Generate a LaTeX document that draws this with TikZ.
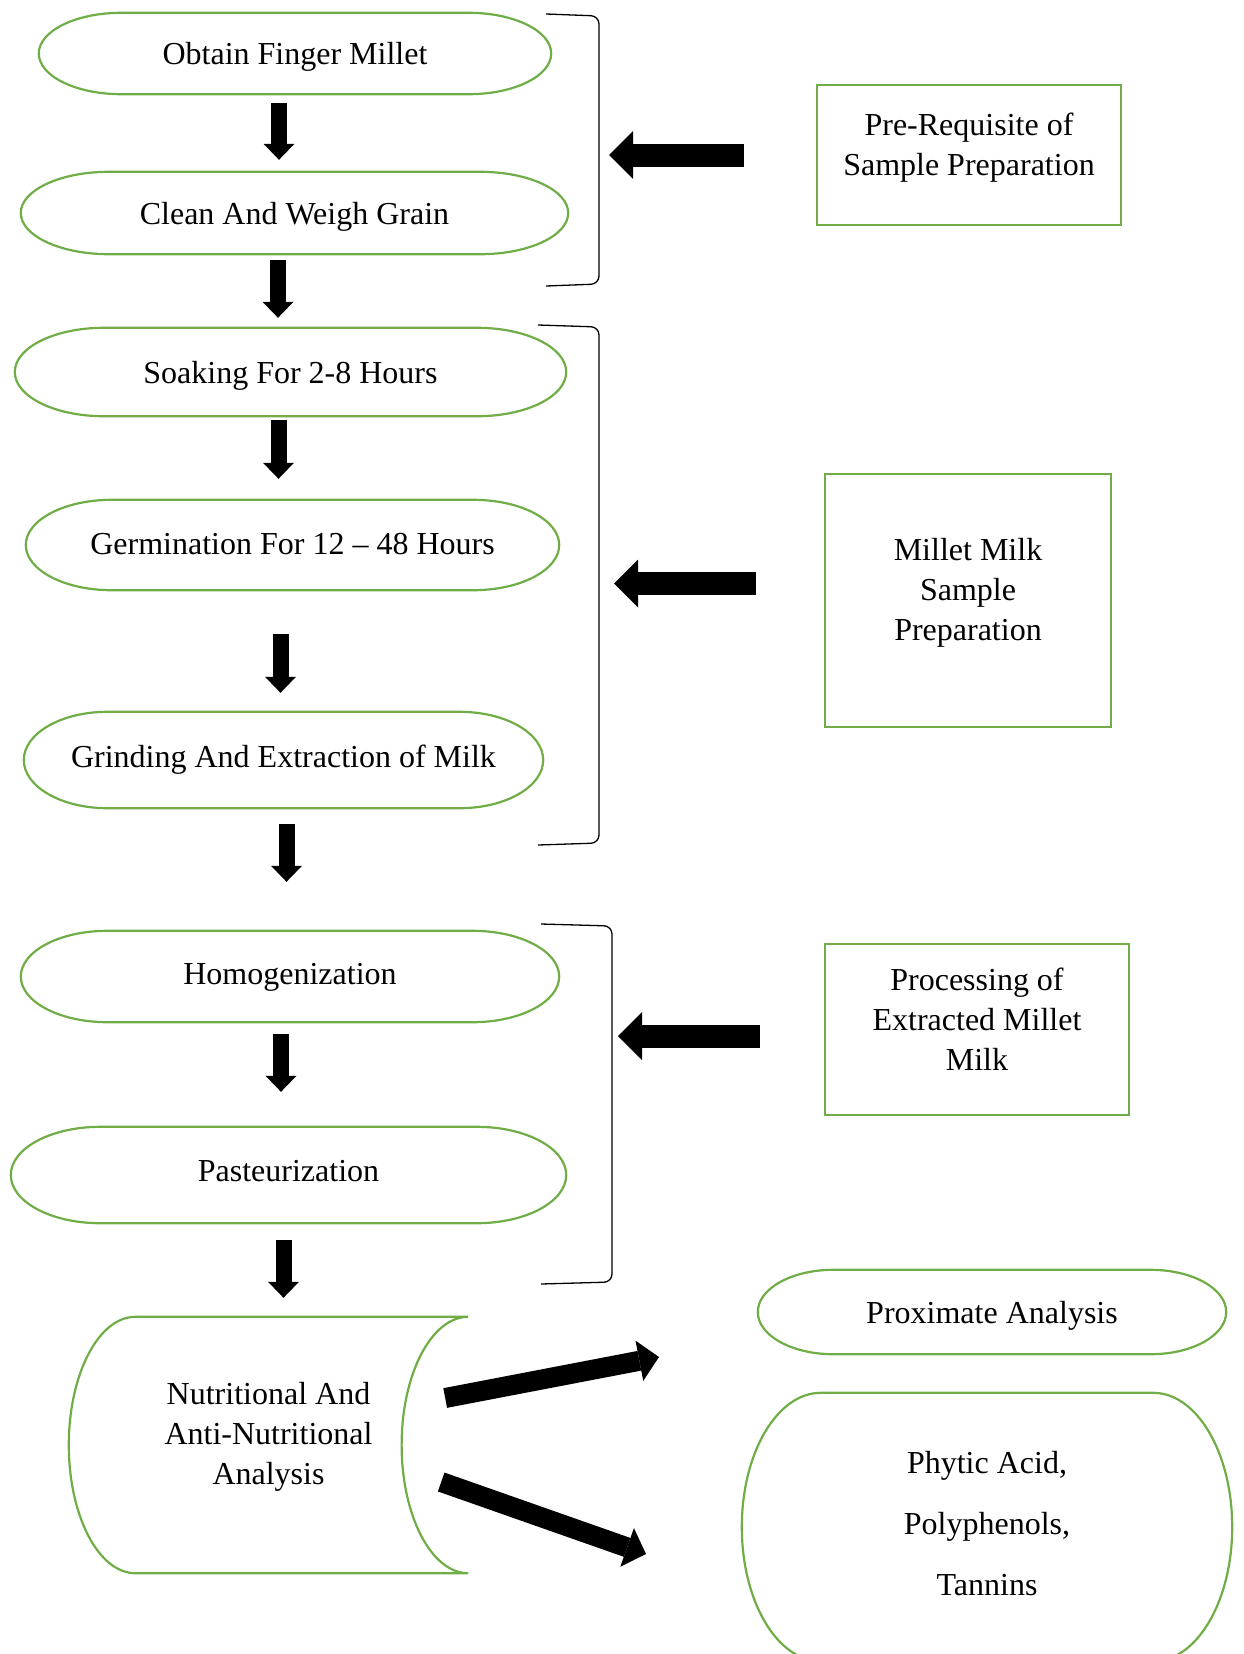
\documentclass[tikz,border=0pt]{standalone}
\usepackage{fontspec}
\setmainfont{Liberation Serif}
\usetikzlibrary{arrows.meta,calc}
\definecolor{leaf}{HTML}{70AD47}
\begin{document}
\begin{tikzpicture}[x=1pt,y=1pt]
\tikzstyle{every node}+=[font=\fontsize{32}{40}\selectfont, inner sep=0pt]
\tikzstyle{term}=[rectangle, draw=none, text height=23pt, text depth=0pt]
\tikzstyle{boxed}=[rectangle, draw=leaf, line width=2.2pt]
\tikzstyle{outline}=[draw=leaf, line width=2.2pt]
\tikzstyle{dn}=[line width=16pt, -{Triangle[length=16pt,width=31pt,line width=0pt]}]
\tikzstyle{blk}=[line width=23pt, -{Triangle[length=24pt,width=48pt,line width=0pt]}]
\tikzstyle{diag}=[line width=20pt, -{Triangle[length=20pt,width=41pt,line width=0pt]}]
\tikzstyle{brk}=[line width=1.3pt, rounded corners=8pt]

\useasboundingbox (0,0) rectangle (1243,-1654);

\node[term, minimum width=512pt, minimum height=81pt] (obtain) at (295,-53.5) {Obtain Finger Millet};
\node[term, minimum width=547pt, minimum height=82pt] (clean) at (294.5,-213) {Clean And Weigh Grain};
\node[term, minimum width=551pt, minimum height=88pt] (soak) at (290.5,-372) {Soaking For 2-8 Hours};
\node[term, minimum width=533pt, minimum height=90pt, text depth=4pt] (germ) at (292.5,-545) {Germination For 12 -- 48 Hours};
\node[term, minimum width=519pt, minimum height=96pt, text depth=8pt] (grind) at (283.5,-760) {Grinding And Extraction of Milk};
\node[term, minimum width=538pt, minimum height=91pt, text depth=6.5pt] (homog) at (290,-976.5) {Homogenization};
\node[term, minimum width=555pt, minimum height=96pt, text depth=10.5pt] (past) at (288.5,-1175) {Pasteurization};
\node[term, minimum width=468pt, minimum height=84pt] (prox) at (992,-1312) {Proximate Analysis};
\node[term, minimum width=490pt, minimum height=268pt, label={[align=center, font=\fontsize{32}{61}\selectfont, yshift=3pt]center:Phytic Acid,\\Polyphenols,\\Tannins}] (phytic) at (987,-1527) {};
\node[term, minimum width=399pt, minimum height=256pt, label={[align=center,yshift=8pt]center:Nutritional And\\Anti-Nutritional\\Analysis}] (nutri) at (268.5,-1445) {};

\node[boxed, minimum width=304pt, minimum height=140pt, label={[align=center,yshift=7pt]center:Pre-Requisite of\\Sample Preparation}] (pre) at (969,-155) {};
\node[boxed, minimum width=286pt, minimum height=253pt, label={[align=center,yshift=7.5pt]center:Millet Milk\\Sample\\Preparation}] (milk) at (968,-600.5) {};
\node[boxed, minimum width=304pt, minimum height=171pt, label={[align=center,yshift=10.5pt]center:Processing of\\Extracted Millet\\Milk}] (proc) at (977,-1029.5) {};

\foreach \nd in {obtain,clean,soak,germ,grind,homog,past,prox,phytic}
  \draw[outline] let \p1=(\nd.north west), \p2=(\nd.south east), \n1={0.161*(\x2-\x1)}, \n2={(\y1-\y2)/2} in
    ({\x1+\n1},\y1) -- ({\x2-\n1},\y1) arc[start angle=90, end angle=-90, x radius=\n1, y radius=\n2]
    -- ({\x1+\n1},\y2) arc[start angle=270, end angle=90, x radius=\n1, y radius=\n2] -- cycle;

\draw[outline] let \p1=(nutri.north west), \p2=(nutri.south east), \n1={(\x2-\x1)/6}, \n2={(\y1-\y2)/2} in
  ({\x1+\n1},\y1) -- (\x2,\y1) arc[start angle=90, end angle=270, x radius=\n1, y radius=\n2]
  -- ({\x1+\n1},\y2) arc[start angle=270, end angle=90, x radius=\n1, y radius=\n2];

\foreach \a/\b/\dx/\s/\e in {obtain/clean/-16/9/12, clean/soak/-16.5/6/10, soak/germ/-12/4/21, germ/grind/-12/44/19, grind/homog/3/16/49, homog/past/-9/12/35, past/nutri/-5/17/19}
  \draw[dn, shorten <=\s pt, shorten >=\e pt] ($(\a.south)+(\dx,0)$) -- ($(\a.south |- \b.north)+(\dx,0)$);

\draw[brk] (546,-14) -- (599,-16) -- (599,-284) -- (546,-286);
\draw[brk] (538,-325) -- (599,-327) -- (599,-843) -- (538,-845);
\draw[brk] (541,-924) -- (612,-926) -- (612,-1282) -- (541,-1284);
\coordinate (brkA) at (599,-150);
\coordinate (brkB) at (599,-585);
\coordinate (brkC) at (612,-1104);

\draw[blk, shorten <=72pt, shorten >=10pt] (pre.west) -- (pre.west -| brkA);
\draw[blk, shorten <=68pt, shorten >=15pt] ($(milk.west)+(0,17)$) -- ($(milk.west -| brkB)+(0,17)$);
\draw[blk, shorten <=64pt, shorten >=6pt] ($(proc.west)+(0,-6.5)$) -- ($(proc.west -| brkC)+(0,-6.5)$);

\coordinate (proxIn) at (659,-1357);
\coordinate (phyIn) at (646,-1554);
\draw[diag] ($(nutri.east)+(-23,47)$) -- (proxIn);
\draw[diag] ($(nutri.east)+(-27,-37)$) -- (phyIn);
\end{tikzpicture}
\end{document}
